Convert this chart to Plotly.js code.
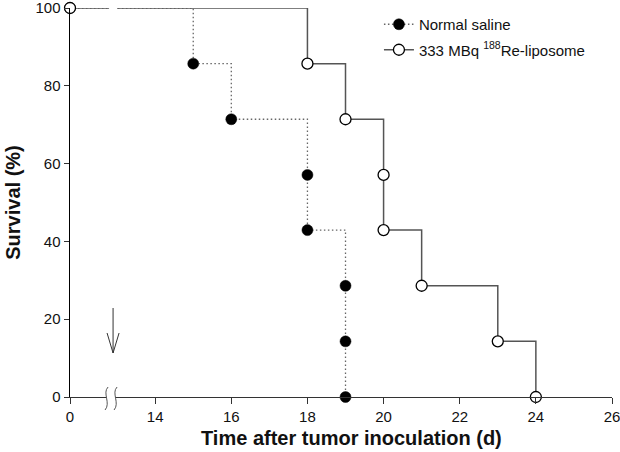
<!DOCTYPE html>
<html>
<head>
<meta charset="utf-8">
<script src="https://cdn.plot.ly/plotly-3.0.1.min.js"></script>
<style>html,body{margin:0;padding:0;background:#fff}#chart{width:620px;height:452px}</style>
</head>
<body>
<div id="chart"></div>
<script>
// ---- data (days after inoculation, survival %) ----
const salineDays     = [0, 15, 16, 18, 18, 19, 19, 19];
const salineSurvival = [100, 85.7, 71.4, 57.1, 42.9, 28.6, 14.3, 0];
const lipoDays       = [0, 18, 19, 20, 20, 21, 23, 24];
const lipoSurvival   = [100, 85.7, 71.4, 57.1, 42.9, 28.6, 14.3, 0];
const xTickDays   = [0, 14, 16, 18, 20, 22, 24, 26];
const xTickLabels = ['0', '14', '16', '18', '20', '22', '24', '26'];
const yTicks      = [0, 20, 40, 60, 80, 100];

// broken axis: day 0 is drawn just left of the break
const X_MAX = 26;
const ZERO_POS = 14 - 85 / 38;
const BREAK_POS = ZERO_POS + 42 / 38;
const mapX = d => (d === 0 ? ZERO_POS : d);
const breakPaper = (BREAK_POS - ZERO_POS) / (X_MAX - ZERO_POS);

const saline = {
  x: salineDays.map(mapX), y: salineSurvival,
  mode: 'lines+markers', name: 'Normal saline', legendgroup: 'a',
  line: {shape: 'hv', dash: '1.5px,2.5px', color: '#666', width: 1.3},
  marker: {size: 11, color: '#000', opacity: 1, line: {width: 0.5, color: '#000'}},
  cliponaxis: false
};
const lipo = {
  x: lipoDays.map(mapX), y: lipoSurvival,
  mode: 'lines+markers', name: '333 MBq <sup>188</sup>Re-liposome', legendgroup: 'b',
  line: {shape: 'hv', color: '#555', width: 1.5},
  marker: {size: 11, color: '#fff', opacity: 1, line: {width: 1.3, color: '#000'}},
  cliponaxis: false
};

const pix = (extra) => Object.assign({
  layer: 'above', xref: 'paper', yref: 'paper', xsizemode: 'pixel', ysizemode: 'pixel',
  xanchor: breakPaper
}, extra);

const layout = {
  width: 620, height: 452,
  margin: {l: 70, r: 8, t: 8, b: 55},
  paper_bgcolor: '#fff', plot_bgcolor: '#fff',
  font: {family: 'Liberation Sans, Arial, sans-serif', size: 15, color: '#111'},
  showlegend: true,
  legend: {x: 0.57, y: 1.0, xanchor: 'left', yanchor: 'top', bgcolor: 'rgba(0,0,0,0)',
           font: {size: 15}, traceorder: 'grouped', tracegroupgap: 3},
  xaxis: {
    range: [ZERO_POS, X_MAX], tickmode: 'array',
    tickvals: xTickDays.map(mapX), ticktext: xTickLabels,
    showgrid: false, zeroline: false, showline: true, linecolor: '#333', linewidth: 1.3,
    ticks: 'outside', ticklen: 6, tickcolor: '#333', ticklabeloverflow: 'allow'
  },
  yaxis: {
    range: [0, 100], tickmode: 'array', tickvals: yTicks,
    showgrid: false, zeroline: false, showline: true, linecolor: '#000', linewidth: 1.5,
    ticks: 'outside', ticklen: 5, tickcolor: '#333', ticklabeloverflow: 'allow',
    title: {text: '<b>Survival (%)</b>', font: {size: 20}, standoff: 9}
  },
  annotations: [
    {text: '<b>Time after tumor inoculation (d)</b>', xref: 'paper', yref: 'paper',
     x: 0.52, y: 0, yshift: -41, xanchor: 'center', yanchor: 'middle', showarrow: false,
     font: {size: 20, color: '#111'}}
  ],
  shapes: [
    // gap in the top line
    pix({type: 'rect', yanchor: 1, x0: -3, x1: 5, y0: -3, y1: 3, fillcolor: '#fff', line: {width: 0}}),
    // gap in the x axis line
    pix({type: 'rect', yanchor: 0, x0: -6, x1: 3, y0: -3, y1: 3, fillcolor: '#fff', line: {width: 0}}),
    // break marks
    pix({type: 'path', yanchor: 0, path: 'M -4 10 C -10 4, -1 -6, -7 -13', line: {color: '#555', width: 1}}),
    pix({type: 'path', yanchor: 0, path: 'M 5 10 C -1 4, 8 -6, 2 -13', line: {color: '#555', width: 1}}),
    // arrow shaft + head
    pix({type: 'path', yanchor: 0, path: 'M 1 89 L 1 44', line: {color: '#333', width: 1}}),
    pix({type: 'path', yanchor: 0, path: 'M -5 64 L 1 44 L 7 64', line: {color: '#333', width: 1}})
  ]
};

Plotly.newPlot('chart', [saline, lipo], layout, {displayModeBar: false, staticPlot: true});
</script>
</body>
</html>
